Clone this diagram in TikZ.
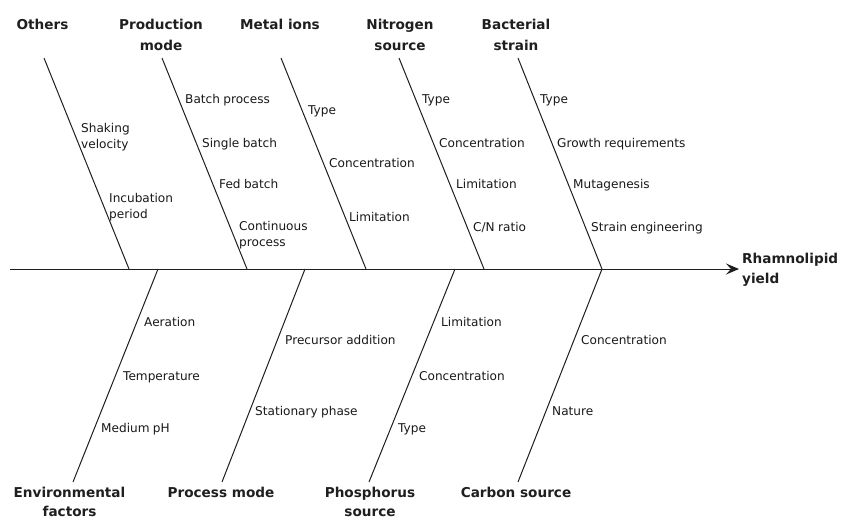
\documentclass[tikz,border=0pt]{standalone}
\usepackage{fontspec}
\setmainfont{DejaVu Sans}
\usetikzlibrary{arrows.meta}
\newcommand{\wsp}{\hspace{0.28em}}
\begin{document}
\begin{tikzpicture}[x=1pt,y=-1pt,
  bone/.style={draw=black!88, line width=1pt},
  spine/.style={draw=black!88, line width=1pt, -{Stealth[length=13pt,width=11pt,inset=5pt]}},
  cat/.style={font=\bfseries\fontsize{13.6}{20.7}\selectfont, align=center, inner sep=0pt, text=black!88, anchor=north},
  catlow/.style={font=\bfseries\fontsize{13.6}{18.5}\selectfont, align=center, inner sep=0pt, text=black!88, anchor=north},
  eff/.style={font=\bfseries\fontsize{13.6}{19.5}\selectfont, align=left, inner sep=0pt, text=black!88, anchor=north west},
  sub/.style={font=\fontsize{12.1}{15.5}\selectfont, align=left, inner sep=0pt, text=black!90, anchor=north west},
]
\useasboundingbox[fill=white] (0,0) rectangle (841,520);

% spine
\coordinate (sp0) at (10,269);
\coordinate (tip) at (739,269);
\draw[spine] (sp0) -- (tip);
\node[eff] (eff) at (742,253) {Rhamnolipid\\yield};

% top bones
\coordinate (t1) at (44,58);  \coordinate (s1) at (129,269);
\coordinate (t2) at (162,58); \coordinate (s2) at (247,269);
\coordinate (t3) at (281,58); \coordinate (s3) at (366,269);
\coordinate (t4) at (399,58); \coordinate (s4) at (484,269);
\coordinate (t5) at (518,58); \coordinate (s5) at (602,269);
\foreach \i in {1,...,5} \draw[bone] (t\i) -- (s\i);

% bottom bones
\coordinate (u1) at (158,269); \coordinate (b1) at (73,482);
\coordinate (u2) at (305,269); \coordinate (b2) at (222,482);
\coordinate (u3) at (455,269); \coordinate (b3) at (369,482);
\coordinate (u4) at (602,269); \coordinate (b4) at (518,482);
\foreach \i in {1,...,4} \draw[bone] (u\i) -- (b\i);

% top titles
\node[cat] (c1) at (42.5,19) {Others};
\node[cat] (c2) at (161,19) {Production\\mode};
\node[cat] (c3) at (280,19) {Metal ions};
\node[cat] (c4) at (400,19) {Nitrogen\\source};
\node[cat] (c5) at (516,19) {Bacterial\\strain};

% bottom titles
\node[catlow] (d1) at (69.5,487) {Environmental\\factors};
\node[catlow] (d2) at (221,487) {Process mode};
\node[catlow] (d3) at (370,487) {Phosphorus\\source};
\node[catlow] (d4) at (516,487) {Carbon source};

% Others
\node[sub] (o1) at (81,123.5) {Shaking\\velocity};
\node[sub] (o2) at (109,193.5) {Incubation\\period};
% Production mode
\node[sub] (p1) at (185,94.5) {Batch\wsp process};
\node[sub] (p2) at (202,138.5) {Single\wsp batch};
\node[sub] (p3) at (219,179.5) {Fed\wsp batch};
\node[sub] (p4) at (239,221.5) {Continuous\\process};
% Metal ions
\node[sub] (m1) at (308,105.5) {Type};
\node[sub] (m2) at (329,158.5) {Concentration};
\node[sub] (m3) at (349,212.5) {Limitation};
% Nitrogen source
\node[sub] (n1) at (422,94.5) {Type};
\node[sub] (n2) at (439,138.5) {Concentration};
\node[sub] (n3) at (456,179.5) {Limitation};
\node[sub] (n4) at (473,222.5) {C/N\wsp ratio};
% Bacterial strain
\node[sub] (g1) at (540,94.5) {Type};
\node[sub] (g2) at (557,138.5) {Growth\wsp requirements};
\node[sub] (g3) at (573,179.5) {Mutagenesis};
\node[sub] (g4) at (591,222.5) {Strain\wsp engineering};

% Environmental factors
\node[sub] (e1) at (144,317.5) {Aeration};
\node[sub] (e2) at (123,371.5) {Temperature};
\node[sub] (e3) at (101,423.5) {Medium\wsp pH};
% Process mode
\node[sub] (q1) at (285,335.5) {Precursor addition};
\node[sub] (q2) at (255,406.5) {Stationary\wsp phase};
% Phosphorus source
\node[sub] (h1) at (441,317.5) {Limitation};
\node[sub] (h2) at (419,371.5) {Concentration};
\node[sub] (h3) at (398,423.5) {Type};
% Carbon source
\node[sub] (k1) at (581,335.5) {Concentration};
\node[sub] (k2) at (552,406.5) {Nature};
\end{tikzpicture}
\end{document}
